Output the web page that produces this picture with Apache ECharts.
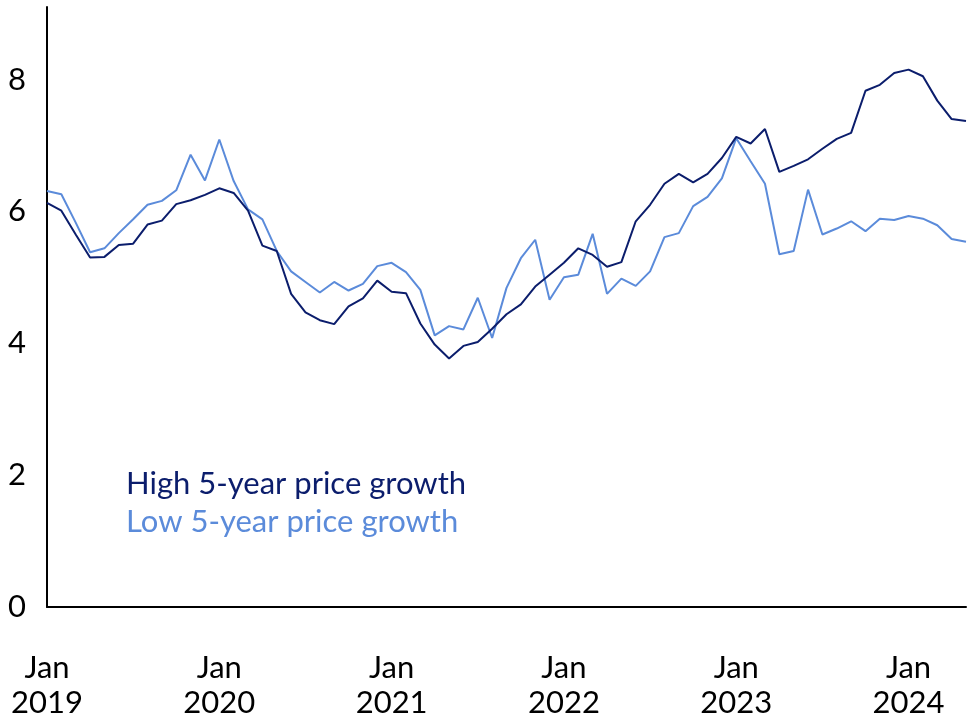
<!doctype html>
<html lang="en">
<head>
  <meta charset="utf-8">
  <title>5-year price growth</title>
  <script src="https://cdn.jsdelivr.net/npm/echarts@6/dist/echarts.min.js"></script>
  <style>
    html, body { margin: 0; padding: 0; background: #fff; }
    #chartmain { width: 972px; height: 720px; }
  </style>
</head>
<body>
<div id="chartmain"></div>
<script>
  // monthly, Jan 2019 .. May 2024
  var years = [2019, 2020, 2021, 2022, 2023, 2024];
  var monthNames = ['Jan','Feb','Mar','Apr','May','Jun','Jul','Aug','Sep','Oct','Nov','Dec'];
  var lastMonthCount = 5; // 2024 runs to May

  var highGrowth = [
    6.13, 6.01, 5.65, 5.30, 5.31, 5.49, 5.51, 5.80, 5.86, 6.11, 6.17, 6.25,
    6.35, 6.28, 6.01, 5.48, 5.40, 4.75, 4.47, 4.35, 4.29, 4.56, 4.68, 4.95,
    4.78, 4.76, 4.30, 3.98, 3.77, 3.96, 4.02, 4.22, 4.44, 4.59, 4.86, 5.04,
    5.22, 5.44, 5.34, 5.16, 5.23, 5.85, 6.10, 6.42, 6.57, 6.44, 6.57, 6.81,
    7.13, 7.03, 7.25, 6.60, 6.69, 6.79, 6.95, 7.10, 7.19, 7.83, 7.92, 8.10,
    8.15, 8.05, 7.68, 7.40, 7.37
  ];
  var lowGrowth = [
    6.31, 6.26, 5.83, 5.38, 5.44, 5.67, 5.88, 6.10, 6.16, 6.32, 6.86, 6.47,
    7.09, 6.46, 6.03, 5.88, 5.40, 5.09, 4.93, 4.77, 4.93, 4.80, 4.90, 5.17,
    5.22, 5.08, 4.81, 4.12, 4.26, 4.21, 4.69, 4.08, 4.84, 5.29, 5.57, 4.66,
    5.00, 5.04, 5.66, 4.75, 4.98, 4.87, 5.09, 5.61, 5.67, 6.08, 6.22, 6.50,
    7.11, 6.76, 6.42, 5.35, 5.40, 6.33, 5.65, 5.74, 5.85, 5.70, 5.89, 5.87,
    5.93, 5.89, 5.79, 5.58, 5.54
  ];

  var categories = [];
  years.forEach(function (y, i) {
    var n = (i == years.length - 1) ? lastMonthCount : 12;
    for (var m = 0; m < n; m++) categories.push(monthNames[m] + ' ' + y);
  });

  var darkBlue = '#0b1d6c';
  var lightBlue = '#5b8bda';
  var font = 'Lato, "Noto Sans", sans-serif';

  var myChart = echarts.init(document.getElementById('chartmain'));
  var option = {
    backgroundColor: '#fff',
    animation: false,
    grid: { left: 47, right: 6, top: 7, bottom: 113, containLabel: false, outerBoundsMode: 'none' },
    legend: {
      orient: 'vertical',
      left: 116,
      top: 463,
      itemWidth: 0,
      itemHeight: 0,
      itemGap: 7,
      textStyle: { fontFamily: font, fontSize: 31 },
      data: [
        { name: 'High 5-year price growth', icon: 'none', textStyle: { color: darkBlue } },
        { name: 'Low 5-year price growth', icon: 'none', textStyle: { color: lightBlue } }
      ]
    },
    xAxis: {
      type: 'category',
      boundaryGap: false,
      data: categories,
      axisLine: { lineStyle: { color: '#000', width: 2 } },
      axisTick: { show: false },
      axisLabel: {
        interval: 11,
        margin: 43,
        color: '#000',
        fontFamily: font,
        fontSize: 31,
        lineHeight: 35,
        formatter: function (v) { return v.replace(' ', '\n'); }
      },
      splitLine: { show: false }
    },
    yAxis: {
      type: 'value',
      min: 0,
      max: 9.1,
      interval: 2,
      axisLine: { show: true, lineStyle: { color: '#000', width: 2 } },
      axisTick: { show: false },
      splitLine: { show: false },
      axisLabel: {
        margin: 21,
        color: '#000',
        fontFamily: font,
        fontSize: 31,
        formatter: function (v) { return v % 2 === 0 ? String(v) : ''; }
      }
    },
    series: [
      {
        name: 'High 5-year price growth',
        type: 'line',
        data: highGrowth,
        showSymbol: false,
        symbol: 'none',
        lineStyle: { color: darkBlue, width: 2 },
        itemStyle: { color: darkBlue },
        z: 3
      },
      {
        name: 'Low 5-year price growth',
        type: 'line',
        data: lowGrowth,
        showSymbol: false,
        symbol: 'none',
        lineStyle: { color: lightBlue, width: 2 },
        itemStyle: { color: lightBlue },
        z: 2
      }
    ]
  };
  myChart.setOption(option);
</script>
</body>
</html>
